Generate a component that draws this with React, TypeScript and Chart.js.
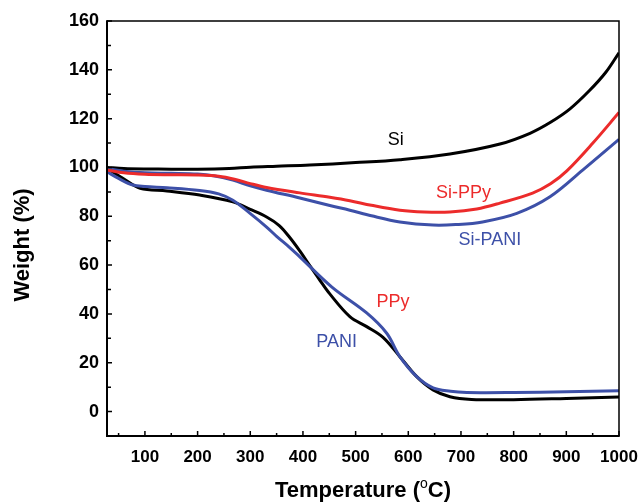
import React, { useEffect, useRef } from "react";
import { Chart, registerables } from "chart.js";

Chart.register(...registerables);

const siT = [28, 60, 100, 150, 200, 260, 300, 350, 413, 500, 584, 679, 774, 831, 870, 907, 944, 975, 1000];
const siV = [100, 99.6, 99.4, 99.3, 99.3, 99.6, 100.1, 100.5, 101, 102, 103.2, 105.5, 109.6, 114, 118.5, 124, 131.5, 139, 147];

const siPPyT = [28, 60, 100, 150, 200, 240, 270, 300, 331, 394, 451, 489, 530, 584, 630, 679, 730, 774, 836, 870, 901, 950, 1000];
const siPPyV = [99, 97.8, 97.2, 97, 96.9, 96.4, 95.2, 93.4, 91.8, 89.6, 87.8, 86.4, 84.5, 82.5, 81.8, 81.8, 83, 85.4, 89.5, 93.3, 98.6, 109.9, 122.5];

const siPaniT = [28, 60, 100, 150, 200, 230, 267, 300, 331, 394, 451, 489, 530, 584, 647, 690, 741, 806, 869, 931, 1000];
const siPaniV = [99.6, 98.5, 97.8, 97.6, 97.3, 96.6, 94.8, 92.5, 90.7, 87.5, 84.4, 82.5, 80.2, 77.7, 76.4, 76.6, 77.7, 81.2, 88, 98.9, 111.5];

const paniT = [28, 50, 77, 100, 142, 204, 240, 267, 299, 331, 350, 375, 394, 455, 521, 559, 584, 616, 647, 680, 711, 800, 900, 1000];
const paniV = [98.2, 95.5, 92.8, 92.2, 91.7, 90.6, 89.2, 86.6, 81.3, 75.6, 71.8, 67.2, 63.4, 51, 40.4, 32.1, 22.5, 14.3, 9.7, 8.3, 7.8, 7.8, 8.1, 8.5];

const ppyT = [28, 58, 91, 142, 204, 267, 300, 331, 355, 375, 394, 413, 430, 451, 489, 521, 552, 584, 616, 647, 679, 720, 800, 900, 1000];
const ppyV = [99.7, 95.6, 91.5, 90.4, 88.7, 85.9, 82.8, 79.7, 76.2, 71.3, 65.8, 59.8, 54.5, 48.2, 38.9, 34.8, 30.4, 22.5, 14.3, 8.9, 6.1, 5.0, 4.9, 5.4, 6];

const xTicks = [100, 200, 300, 400, 500, 600, 700, 800, 900, 1000];
const xMinorTicks = [50, 150, 250, 350, 450, 550, 650, 750, 850, 950];
const yTicks = [0, 20, 40, 60, 80, 100, 120, 140, 160];
const yMinorTicks = [-10, 10, 30, 50, 70, 90, 110, 130, 150];

const curveLabels = ["Si", "Si-PPy", "Si-PANI", "PPy", "PANI"];
const curveLabelT = [576, 705, 755, 571, 464];
const curveLabelV = [111.2, 89.7, 70.2, 44.9, 28.3];

const BLACK = "#000000";
const RED = "#ec2b2b";
const BLUE = "#3d50a8";
const labelColors = [BLACK, RED, BLUE, RED, BLUE];

const FONT = "'Liberation Sans', Arial, sans-serif";

function pts(t: number[], v: number[]) {
  return t.map((x, i) => ({ x, y: v[i] }));
}

const framePlugin = {
  id: "frameAndText",
  afterDraw(chart: any) {
    const { ctx, chartArea: a, scales } = chart;
    const xs = scales.x;
    const ys = scales.y;
    ctx.save();
    ctx.strokeStyle = "#000";
    ctx.lineWidth = 1.5;
    ctx.beginPath();
    ctx.moveTo(a.left, a.top);
    ctx.lineTo(a.right, a.top);
    ctx.lineTo(a.right, a.bottom);
    ctx.stroke();
    ctx.lineWidth = 2;
    ctx.beginPath();
    ctx.moveTo(a.left, a.top - 0.75);
    ctx.lineTo(a.left, a.bottom);
    ctx.lineTo(a.right + 0.75, a.bottom);
    ctx.stroke();
    ctx.lineWidth = 1.5;
    ctx.beginPath();
    xTicks.forEach((t) => {
      const px = xs.getPixelForValue(t);
      ctx.moveTo(px, a.bottom);
      ctx.lineTo(px, a.bottom - 5);
    });
    xMinorTicks.forEach((t) => {
      const px = xs.getPixelForValue(t);
      if (px <= a.left + 1) return;
      ctx.moveTo(px, a.bottom);
      ctx.lineTo(px, a.bottom - 3);
    });
    yTicks.forEach((t) => {
      const py = ys.getPixelForValue(t);
      ctx.moveTo(a.left, py);
      ctx.lineTo(a.left + 5, py);
    });
    yMinorTicks.forEach((t) => {
      const py = ys.getPixelForValue(t);
      if (py >= a.bottom - 1) return;
      ctx.moveTo(a.left, py);
      ctx.lineTo(a.left + 4, py);
    });
    ctx.stroke();

    ctx.font = `18px ${FONT}`;
    ctx.textAlign = "center";
    ctx.textBaseline = "middle";
    curveLabels.forEach((s, i) => {
      ctx.fillStyle = labelColors[i];
      ctx.fillText(s, xs.getPixelForValue(curveLabelT[i]), ys.getPixelForValue(curveLabelV[i]));
    });

    ctx.fillStyle = "#000";
    ctx.font = `bold 22px ${FONT}`;
    ctx.save();
    ctx.translate(23, 245);
    ctx.rotate(-Math.PI / 2);
    ctx.textAlign = "center";
    ctx.textBaseline = "middle";
    ctx.fillText("Weight (%)", 0, 0);
    ctx.restore();

    const p1 = "Temperature (";
    const sup = "o";
    const p2 = "C)";
    ctx.font = `bold 22px ${FONT}`;
    const w1 = ctx.measureText(p1).width;
    const w3 = ctx.measureText(p2).width;
    ctx.font = `14px ${FONT}`;
    const w2 = ctx.measureText(sup).width;
    const total = w1 + w2 + w3;
    const cx = 363;
    const by = 497;
    const x0 = cx - total / 2;
    ctx.textAlign = "left";
    ctx.textBaseline = "alphabetic";
    ctx.font = `bold 22px ${FONT}`;
    ctx.fillText(p1, x0, by);
    ctx.font = `14px ${FONT}`;
    ctx.fillText(sup, x0 + w1, by - 9);
    ctx.font = `bold 22px ${FONT}`;
    ctx.fillText(p2, x0 + w1 + w2, by);
    ctx.restore();
  },
};

export default function App() {
  const ref = useRef<HTMLCanvasElement>(null);
  useEffect(() => {
    if (!ref.current) return;
    const ds = (label: string, t: number[], v: number[], color: string) => ({
      label,
      data: pts(t, v),
      borderColor: color,
      backgroundColor: color,
      borderWidth: 3,
      pointRadius: 0,
      tension: 0.35,
      fill: false,
    });
    const chart = new Chart(ref.current, {
      type: "line",
      data: {
        datasets: [
          ds("Si-PPy", siPPyT, siPPyV, RED),
          ds("Si-PANI", siPaniT, siPaniV, BLUE),
          ds("Si", siT, siV, BLACK),
          ds("PANI", paniT, paniV, BLUE),
          ds("PPy", ppyT, ppyV, BLACK),
        ],
      },
      options: {
        animation: false,
        responsive: true,
        maintainAspectRatio: false,
        devicePixelRatio: 1,
        layout: { padding: { top: 21, right: 22, left: 0, bottom: 0 } },
        plugins: { legend: { display: false }, tooltip: { enabled: false } },
        scales: {
          x: {
            type: "linear",
            min: 28,
            max: 1000,
            grid: { display: false, drawTicks: false },
            border: { display: false },
            afterBuildTicks: (s: any) => {
              s.ticks = xTicks.map((v) => ({ value: v }));
            },
            afterFit: (s: any) => {
              s.height = 68;
              s.paddingLeft = 0;
              s.paddingRight = 0;
            },
            ticks: {
              autoSkip: false,
              maxRotation: 0,
              padding: 11,
              color: "#000",
              font: { family: FONT, size: 17, weight: "bold" },
              callback: (v: any) => String(v),
            },
          },
          y: {
            type: "linear",
            min: -10,
            max: 160,
            grid: { display: false, drawTicks: false },
            border: { display: false },
            afterBuildTicks: (s: any) => {
              s.ticks = yTicks.map((v) => ({ value: v }));
            },
            afterFit: (s: any) => {
              s.width = 107;
              s.paddingTop = 0;
              s.paddingBottom = 0;
            },
            ticks: {
              autoSkip: false,
              padding: 8,
              color: "#000",
              font: { family: FONT, size: 18, weight: "bold" },
              callback: (v: any) => String(v),
            },
          },
        },
      },
      plugins: [framePlugin],
    });
    return () => chart.destroy();
  }, []);
  return (
    <div style={{ position: "fixed", left: 0, top: 0, width: 641, height: 504, background: "#fff" }}>
      <canvas ref={ref} />
    </div>
  );
}
